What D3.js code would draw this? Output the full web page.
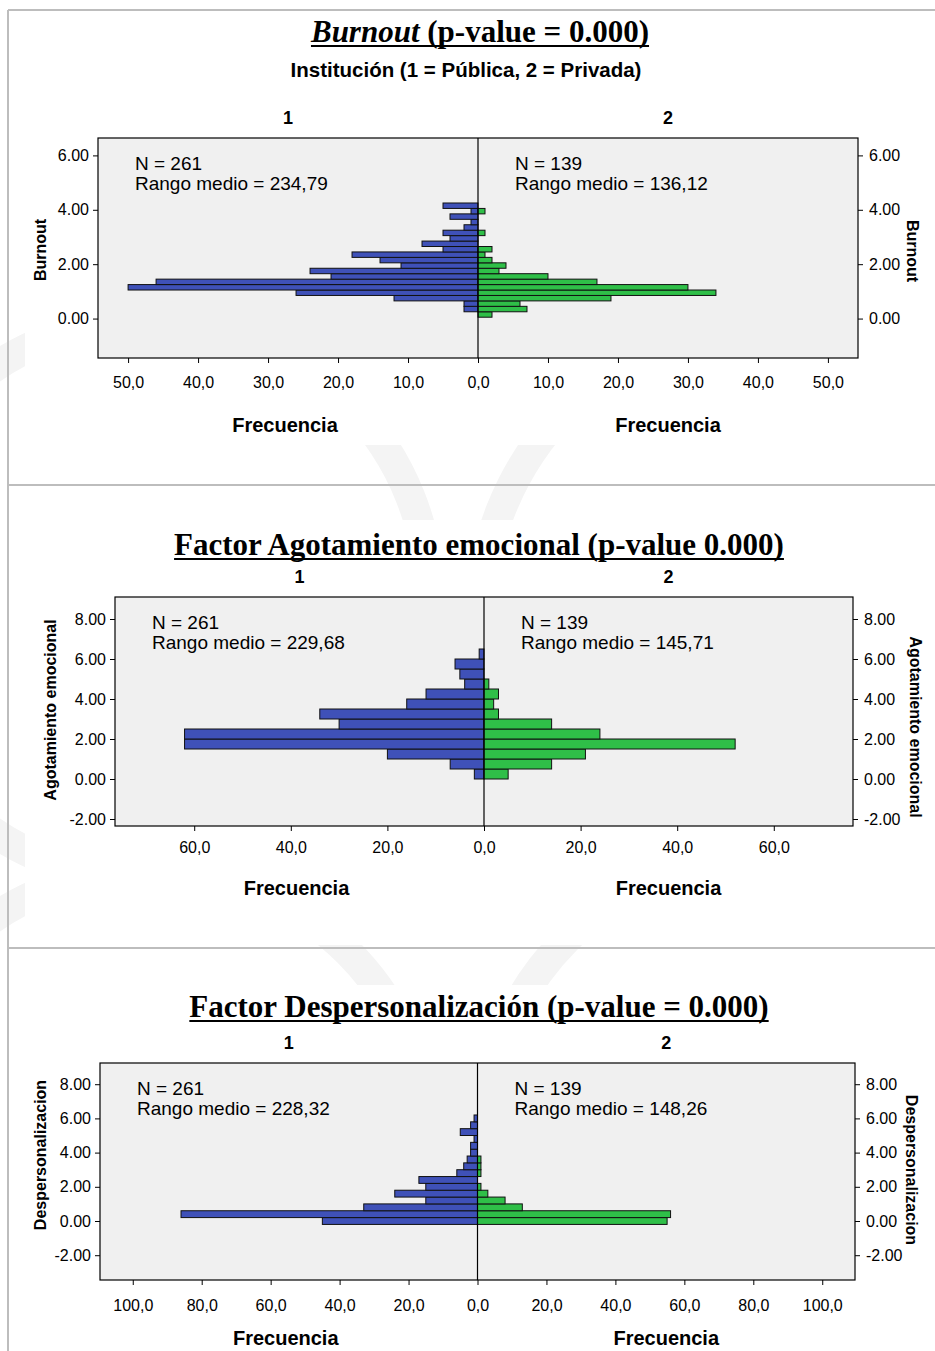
<!DOCTYPE html>
<html>
<head>
<meta charset="utf-8">
<script src="https://cdn.jsdelivr.net/npm/d3@7"></script>
<style>
  html, body { margin: 0; padding: 0; background: #fff; }
  svg { display: block; }
  text { font-family: "Liberation Sans", Arial, sans-serif; fill: #000; }
  .serif { font-family: "Liberation Serif", "Times New Roman", serif; }
</style>
</head>
<body>
<div id="chart"></div>
<script>
// group labels (1 = Pública, 2 = Privada)
const groups = ["1", "2"];

// Burnout: bin centres (bottom -> top) and frequencies
const burnoutCenters = [0.15, 0.35, 0.55, 0.75, 0.95, 1.15, 1.35, 1.55, 1.75, 1.95, 2.15,
  2.35, 2.55, 2.75, 2.95, 3.15, 3.35, 3.55, 3.75, 3.95, 4.15];
const burnoutPublica = [0, 2, 2, 12, 26, 50, 46, 21, 24, 11, 14, 18, 5, 8, 4, 5, 2, 1, 4, 1, 5];
const burnoutPrivada = [2, 7, 6, 19, 34, 30, 17, 10, 3, 4, 2, 1, 2, 0, 0, 1, 0, 0, 0, 1, 0];

// Agotamiento emocional
const agotCenters = [0.25, 0.75, 1.25, 1.75, 2.25, 2.75, 3.25, 3.75, 4.25, 4.75, 5.25, 5.75, 6.25];
const agotPublica = [2, 7, 20, 62, 62, 30, 34, 16, 12, 4, 5, 6, 1];
const agotPrivada = [5, 14, 21, 52, 24, 14, 3, 2, 3, 1, 0, 0, 0];

// Despersonalizacion
const despCenters = [0, 0.4, 0.8, 1.2, 1.6, 2.0, 2.4, 2.8, 3.2, 3.6, 4.0, 4.4, 4.8, 5.2, 5.6, 6.0];
const despPublica = [45, 86, 33, 15, 24, 15, 17, 6, 4, 3, 2, 2, 1, 5, 2, 1];
const despPrivada = [55, 56, 13, 8, 3, 1, 0, 1, 1, 1, 0, 0, 0, 0, 0, 0];

// tick values
const burnoutXTicks = [-50, -40, -30, -20, -10, 0, 10, 20, 30, 40, 50];
const burnoutYTicks = [0, 2, 4, 6];
const agotXTicks = [-60, -40, -20, 0, 20, 40, 60];
const agotYTicks = [-2, 0, 2, 4, 6, 8];
const despXTicks = [-100, -80, -60, -40, -20, 0, 20, 40, 60, 80, 100];
const despYTicks = [-2, 0, 2, 4, 6, 8];

const statsText = [
  ["N = 261", "Rango medio = 234,79", "N = 139", "Rango medio = 136,12"],
  ["N = 261", "Rango medio = 229,68", "N = 139", "Rango medio = 145,71"],
  ["N = 261", "Rango medio = 228,32", "N = 139", "Rango medio = 148,26"]
];

const W = 935, H = 1351;
const blue = "#3f51b8", green = "#2fbf48";

const svg = d3.select("#chart").append("svg")
  .attr("width", W).attr("height", H);

// faint watermark
const wm = svg.append("g").attr("fill", "none").attr("stroke", "#f4f4f4");
[[150, 600, 280], [780, 620, 300], [150, 1150, 280], [780, 1150, 300]].forEach(c => {
  wm.append("circle").attr("cx", c[0]).attr("cy", c[1]).attr("r", c[2]).attr("stroke-width", 30);
});

// white chart images
svg.append("rect").attr("x", 25).attr("y", 12).attr("width", 910).attr("height", 433).attr("fill", "#fff");
svg.append("rect").attr("x", 25).attr("y", 520).attr("width", 910).attr("height", 425).attr("fill", "#fff");
svg.append("rect").attr("x", 15).attr("y", 985).attr("width", 920).attr("height", 366).attr("fill", "#fff");

const border = svg.append("g").attr("stroke", "#bdbdbd").attr("stroke-width", 2);
border.append("line").attr("x1", 8).attr("x2", W).attr("y1", 10).attr("y2", 10);
border.append("line").attr("x1", 8).attr("x2", 8).attr("y1", 10).attr("y2", H);
border.append("line").attr("x1", 8).attr("x2", W).attr("y1", 485).attr("y2", 485);
border.append("line").attr("x1", 8).attr("x2", W).attr("y1", 948).attr("y2", 948);

function title(parts, cx, y) {
  const t = svg.append("text").attr("class", "serif")
    .attr("x", cx).attr("y", y).attr("text-anchor", "middle")
    .style("font-size", "31px").style("font-weight", "bold");
  parts.forEach(p => t.append("tspan").text(p[0]).style("font-style", p[1] ? "italic" : "normal"));
  const w = t.node().getComputedTextLength();
  svg.append("line").attr("x1", cx - w / 2).attr("x2", cx + w / 2)
    .attr("y1", y + 4).attr("y2", y + 4).attr("stroke", "#000").attr("stroke-width", 2);
}

title([["Burnout", true], [" (p-value = 0.000)", false]], 480, 42);
svg.append("text").attr("x", 466).attr("y", 77).attr("text-anchor", "middle")
  .style("font-size", "20.5px").style("font-weight", "bold")
  .text("Institución (1 = Pública, 2 = Privada)");
title([["Factor Agotamiento emocional (p-value 0.000)", false]], 479, 555);
title([["Factor Despersonalización (p-value = 0.000)", false]], 479, 1017);

function panel(cfg) {
  const x = d3.scaleLinear().domain([-cfg.xMax, cfg.xMax]).range([cfg.left, cfg.right]);
  const y = d3.scaleLinear().domain([cfg.yMin, cfg.yMax]).range([cfg.bottom, cfg.top]);
  const g = svg.append("g");

  g.append("rect").attr("x", cfg.left).attr("y", cfg.top)
    .attr("width", cfg.right - cfg.left).attr("height", cfg.bottom - cfg.top)
    .attr("fill", "#f0f0f0");

  const half = (cfg.centers[1] - cfg.centers[0]) / 2;
  const rows = cfg.centers.map((c, i) => ({ c: c, a: cfg.publica[i], b: cfg.privada[i] }));

  g.selectAll(".pub").data(rows.filter(d => d.a > 0)).join("rect")
    .attr("x", d => x(-d.a)).attr("width", d => x(0) - x(-d.a))
    .attr("y", d => y(d.c + half)).attr("height", d => y(d.c - half) - y(d.c + half))
    .attr("fill", blue).attr("stroke", "#111").attr("stroke-width", 1);
  g.selectAll(".pri").data(rows.filter(d => d.b > 0)).join("rect")
    .attr("x", x(0)).attr("width", d => x(d.b) - x(0))
    .attr("y", d => y(d.c + half)).attr("height", d => y(d.c - half) - y(d.c + half))
    .attr("fill", green).attr("stroke", "#111").attr("stroke-width", 1);

  g.append("rect").attr("x", cfg.left).attr("y", cfg.top)
    .attr("width", cfg.right - cfg.left).attr("height", cfg.bottom - cfg.top)
    .attr("fill", "none").attr("stroke", "#000").attr("stroke-width", 1.2);
  g.append("line").attr("x1", x(0)).attr("x2", x(0)).attr("y1", cfg.top).attr("y2", cfg.bottom)
    .attr("stroke", "#000").attr("stroke-width", 1.2);

  const yFmt = d => d.toFixed(2);
  const xFmt = d => Math.abs(d).toFixed(1).replace(".", ",");

  const yl = g.append("g").attr("transform", `translate(${cfg.left},0)`)
    .call(d3.axisLeft(y).tickValues(cfg.yTicks).tickFormat(yFmt).tickSize(5).tickPadding(4));
  const yr = g.append("g").attr("transform", `translate(${cfg.right},0)`)
    .call(d3.axisRight(y).tickValues(cfg.yTicks).tickFormat(yFmt).tickSize(5).tickPadding(6));
  const xb = g.append("g").attr("transform", `translate(0,${cfg.bottom})`)
    .call(d3.axisBottom(x).tickValues(cfg.xTicks).tickFormat(xFmt).tickSize(5).tickPadding(cfg.xPad));
  [yl, yr, xb].forEach(a => {
    a.select(".domain").remove();
    a.selectAll("text").style("font-size", "16px").style("font-family", "Liberation Sans, Arial, sans-serif").attr("fill", "#000");
    a.selectAll("line").attr("stroke", "#000");
  });

  const midL = (cfg.left + x(0)) / 2, midR = (x(0) + cfg.right) / 2;
  [midL, midR].forEach((m, i) => {
    g.append("text").attr("x", m).attr("y", cfg.top - 14).attr("text-anchor", "middle")
      .style("font-size", "18px").style("font-weight", "bold").text(groups[i]);
    g.append("text").attr("x", m - (i === 0 ? 3 : 0)).attr("y", cfg.bottom + cfg.freqDy).attr("text-anchor", "middle")
      .style("font-size", "20px").style("font-weight", "bold").text("Frecuencia");
  });

  const st = statsText[cfg.idx];
  [[cfg.left + 37, 0], [x(0) + 37, 2]].forEach(p => {
    g.append("text").attr("x", p[0]).attr("y", cfg.top + 32).style("font-size", "19px").text(st[p[1]]);
    g.append("text").attr("x", p[0]).attr("y", cfg.top + 52).style("font-size", "19px").text(st[p[1] + 1]);
  });

  g.append("text").attr("transform", `translate(${cfg.labL},${cfg.labLy}) rotate(-90)`)
    .attr("text-anchor", "middle").attr("dy", "0.35em")
    .style("font-size", "16px").style("font-weight", "bold").text(cfg.label);
  g.append("text").attr("transform", `translate(${cfg.labR},${cfg.labRy}) rotate(90)`)
    .attr("text-anchor", "middle").attr("dy", "0.35em")
    .style("font-size", "16px").style("font-weight", "bold").text(cfg.label);
}

panel({ idx: 0, left: 98, right: 858, top: 138, bottom: 358, xMax: 54.3, yMin: -1.45, yMax: 6.64,
  centers: burnoutCenters, publica: burnoutPublica, privada: burnoutPrivada,
  xTicks: burnoutXTicks, yTicks: burnoutYTicks, xPad: 14, freqDy: 74,
  label: "Burnout", labL: 40, labLy: 250, labR: 913, labRy: 251 });

panel({ idx: 1, left: 115, right: 853, top: 597, bottom: 826, xMax: 76.4, yMin: -2.35, yMax: 9.1,
  centers: agotCenters, publica: agotPublica, privada: agotPrivada,
  xTicks: agotXTicks, yTicks: agotYTicks, xPad: 11, freqDy: 69,
  label: "Agotamiento emocional", labL: 50, labLy: 710, labR: 916, labRy: 727 });

panel({ idx: 2, left: 100, right: 855, top: 1063, bottom: 1280, xMax: 109.5, yMin: -3.45, yMax: 9.24,
  centers: despCenters, publica: despPublica, privada: despPrivada,
  xTicks: despXTicks, yTicks: despYTicks, xPad: 15, freqDy: 65,
  label: "Despersonalizacion", labL: 40, labLy: 1155, labR: 912, labRy: 1170 });
</script>
</body>
</html>
